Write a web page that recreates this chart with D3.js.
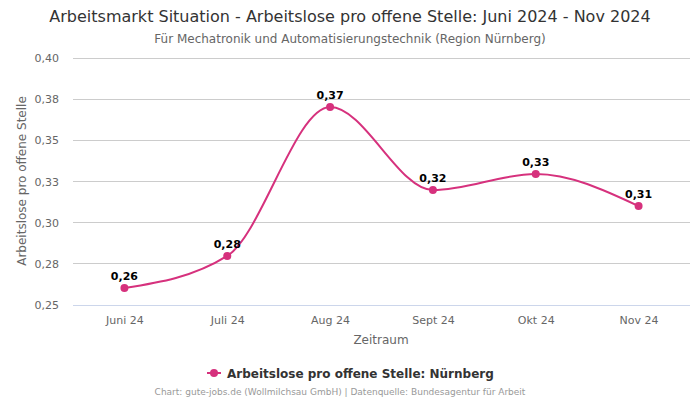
<!DOCTYPE html>
<html><head><meta charset="utf-8">
<script src="https://cdn.jsdelivr.net/npm/d3@7"></script>
<style>body{margin:0;background:#fff;font-family:"DejaVu Sans",sans-serif;}</style>
</head><body><svg id="c" width="700" height="400"></svg>
<script>
const categories = ["Juni 24","Juli 24","Aug 24","Sept 24","Okt 24","Nov 24"];
const values = [0.2603, 0.2798, 0.3702, 0.3198, 0.3296, 0.3101];
const labels = ["0,26","0,28","0,37","0,32","0,33","0,31"];
const yTicks = [0.25,0.275,0.30,0.325,0.35,0.375,0.40];
const color = "#d6317d";

const svg = d3.select("#c");
const m = {l:73, r:10, t:58, b:95};
const W = 700, H = 400;
const x = d3.scalePoint().domain(categories).range([m.l, W-m.r]).padding(0.5);
const y = d3.scaleLinear().domain([0.25,0.40]).range([H-m.b, m.t]);
const fmt = v => d3.format(".2f")(v).replace(".", ",");

svg.append("text").attr("x",350).attr("y",22).attr("text-anchor","middle")
  .attr("font-size",16).attr("fill","#333").text("Arbeitsmarkt Situation - Arbeitslose pro offene Stelle: Juni 2024 - Nov 2024");
svg.append("text").attr("x",350).attr("y",43).attr("text-anchor","middle")
  .attr("font-size",12).attr("fill","#666").text("Für Mechatronik und Automatisierungstechnik (Region Nürnberg)");

// grid
const g = svg.append("g");
g.selectAll("line.grid").data(yTicks).join("line")
  .attr("x1",m.l).attr("x2",W-m.r).attr("y1",d=>y(d)).attr("y2",d=>y(d))
  .attr("stroke",(d,i)=>i===0?"#ccd6eb":"#cccccc").attr("stroke-width",1).attr("shape-rendering","crispEdges");

const yAxis = svg.append("g").attr("transform",`translate(${m.l},0)`)
  .call(d3.axisLeft(y).tickValues(yTicks).tickFormat(fmt).tickSize(0).tickPadding(14));
yAxis.select(".domain").remove();
yAxis.selectAll("text").attr("font-size",11).attr("fill","#666").attr("font-family","DejaVu Sans");

const xAxis = svg.append("g").attr("transform",`translate(0,${H-m.b})`)
  .call(d3.axisBottom(x).tickSize(0).tickPadding(11));
xAxis.select(".domain").remove();
xAxis.selectAll("text").attr("font-size",11).attr("fill","#666").attr("font-family","DejaVu Sans");

svg.append("text").attr("x",381).attr("y",344).attr("text-anchor","middle")
  .attr("font-size",12).attr("fill","#666").text("Zeitraum");
svg.append("text").attr("transform","translate(26,181) rotate(-90)").attr("text-anchor","middle")
  .attr("font-size",12).attr("fill","#666").text("Arbeitslose pro offene Stelle");

const line = d3.line().x((d,i)=>x(categories[i])).y(d=>y(d)).curve(d3.curveMonotoneX);
svg.append("path").datum(values).attr("d",line).attr("fill","none").attr("stroke",color).attr("stroke-width",2);
svg.selectAll("circle.pt").data(values).join("circle")
  .attr("cx",(d,i)=>x(categories[i])).attr("cy",d=>y(d)).attr("r",4).attr("fill",color);
svg.selectAll("text.lbl").data(values).join("text")
  .attr("x",(d,i)=>x(categories[i])).attr("y",d=>y(d)-8).attr("text-anchor","middle")
  .attr("font-size",11).attr("font-weight","bold").attr("fill","#000").text((d,i)=>labels[i]);

// legend
const lg = svg.append("g");
lg.append("line").attr("x1",207).attr("x2",221).attr("y1",373).attr("y2",373).attr("stroke",color).attr("stroke-width",2);
lg.append("circle").attr("cx",214).attr("cy",373).attr("r",4).attr("fill",color);
lg.append("text").attr("x",227).attr("y",377.5).attr("font-size",12).attr("font-weight","bold").attr("fill","#333")
  .text("Arbeitslose pro offene Stelle: Nürnberg");

svg.append("text").attr("x",340).attr("y",395).attr("text-anchor","middle").attr("font-size",9).attr("fill","#999")
  .text("Chart: gute-jobs.de (Wollmilchsau GmbH) | Datenquelle: Bundesagentur für Arbeit");
</script></body></html>
